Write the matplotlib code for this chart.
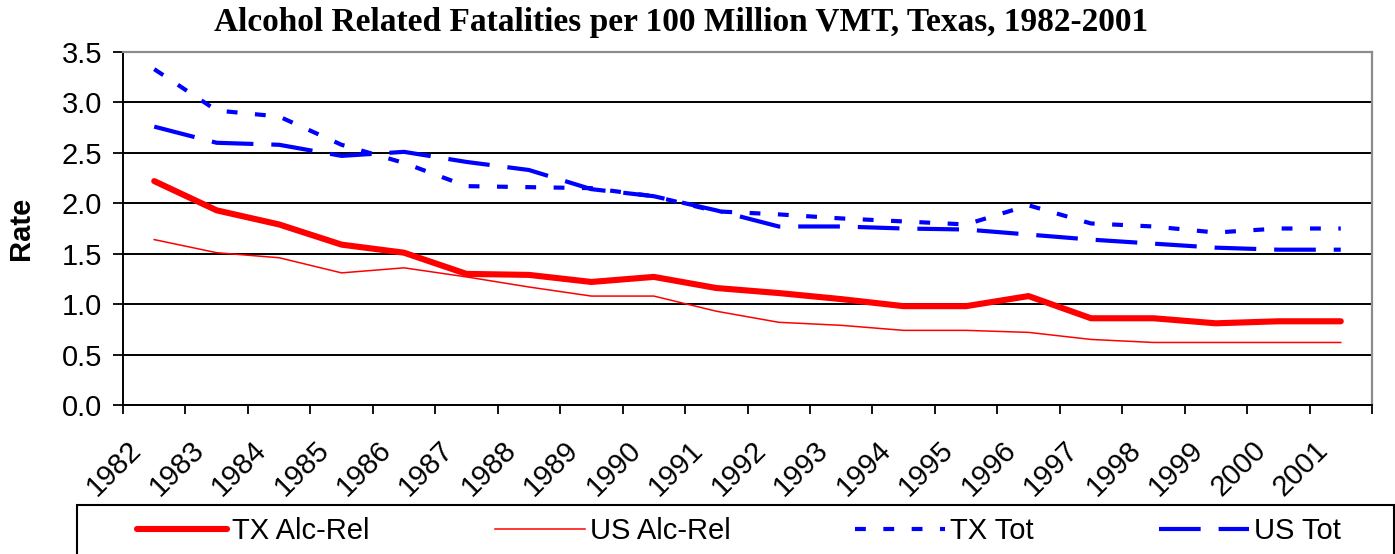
import numpy as np
import matplotlib
matplotlib.use("Agg")
import matplotlib.pyplot as plt
import matplotlib.patches as patches
import matplotlib.transforms as transforms

years = [str(y) for y in range(1982, 2002)]

# rates per 100 million VMT
tx_alc = [2.22, 1.93, 1.79, 1.59, 1.51, 1.30, 1.29, 1.22, 1.27, 1.16,
          1.11, 1.05, 0.98, 0.98, 1.08, 0.86, 0.86, 0.81, 0.83, 0.83]
us_alc = [1.64, 1.51, 1.46, 1.31, 1.36, 1.27, 1.17, 1.08, 1.08, 0.93,
          0.82, 0.79, 0.74, 0.74, 0.72, 0.65, 0.62, 0.62, 0.62, 0.62]
tx_tot = [3.33, 2.92, 2.86, 2.58, 2.40, 2.17, 2.16, 2.15, 2.07, 1.92,
          1.89, 1.85, 1.82, 1.79, 1.98, 1.80, 1.77, 1.71, 1.75, 1.75]
us_tot = [2.76, 2.60, 2.58, 2.47, 2.51, 2.41, 2.33, 2.14, 2.07, 1.93,
          1.77, 1.77, 1.75, 1.74, 1.69, 1.64, 1.60, 1.56, 1.54, 1.54]

labels = ["TX Alc-Rel", "US Alc-Rel", "TX Tot", "US Tot"]

W, H = 1395, 554
FS = 21
fig = plt.figure(figsize=(W / 100, H / 100), dpi=100)
ax = fig.add_axes([123 / W, 1 - 405 / H, (1372 - 123) / W, (405 - 52) / H])

x = np.arange(len(years)) + 0.5
l1, = ax.plot(x, tx_alc, color="#FF0000", lw=4.4, solid_capstyle="round")
l2, = ax.plot(x, us_alc, color="#FF0000", lw=1.1)
l3, = ax.plot(x, tx_tot, color="#0000FF", lw=3.0, linestyle=(0, (2.6, 4.2)),
              dash_capstyle="butt")
l4, = ax.plot(x, us_tot, color="#0000FF", lw=3.0, linestyle=(0, (10, 4.3)),
              dash_capstyle="butt")

ax.set_xlim(0, len(years))
ax.set_ylim(0, 3.5)
ax.set_yticks(np.arange(0, 3.51, 0.5))
ax.set_yticklabels(["%.1f" % v for v in np.arange(0, 3.51, 0.5)])
ax.set_xticks(np.arange(0, len(years) + 1))
ax.set_xticklabels([])
ax.set_xticks(x, minor=True)
ax.set_xticklabels(years, minor=True, rotation=45, ha="right", va="top",
                   rotation_mode="anchor")
ax.tick_params(axis="x", which="major", direction="out", length=6.5, width=1.3)
ax.tick_params(axis="x", which="minor", length=0, pad=22, labelsize=FS)
ax.tick_params(axis="y", direction="out", length=7, width=1.3, pad=8, labelsize=FS)

off = transforms.ScaledTranslation(-27 / 100, 0, fig.dpi_scale_trans)
for t in ax.xaxis.get_minorticklabels():
    t.set_transform(t.get_transform() + off)
    t.set_fontfamily("Liberation Sans")
for t in ax.get_yticklabels():
    t.set_fontfamily("Liberation Sans")

ax.grid(axis="y", color="black", lw=1.4)
ax.yaxis.get_gridlines()[-1].set_visible(False)
ax.set_axisbelow(True)
for s in ["left", "bottom"]:
    ax.spines[s].set_color("black")
    ax.spines[s].set_linewidth(1.4)
for s in ["top", "right"]:
    ax.spines[s].set_color("#8c8c8c")
    ax.spines[s].set_linewidth(1.6)

fig.text(681 / W, 1 - 23 / H, "Alcohol Related Fatalities per 100 Million VMT, Texas, 1982-2001",
         ha="center", va="center", fontsize=24, fontweight="bold", family="Liberation Serif")
fig.text(21 / W, 1 - 228 / H, "Rate", rotation=90, ha="center", va="center",
         fontsize=FS, fontweight="bold", family="Liberation Sans")

# legend box, cut off by the figure edge like the original
fig.patches.append(patches.Rectangle((77 / W, -0.2), (1394 - 77) / W, 0.2 + 1 - 505 / H,
                                     transform=fig.transFigure, fill=False,
                                     edgecolor="black", lw=1.5))
em = FS * 100 / 72
leg = fig.legend([l1, l2, l3, l4], labels, ncol=4, loc="center left",
                 bbox_to_anchor=(137 / W, 1 - 531 / H), frameon=False,
                 borderpad=0, borderaxespad=0, handlelength=90 / em,
                 handletextpad=5 / em, columnspacing=125 / em,
                 prop={"family": "Liberation Sans", "size": FS})

fig.savefig("out.png", dpi=100)
